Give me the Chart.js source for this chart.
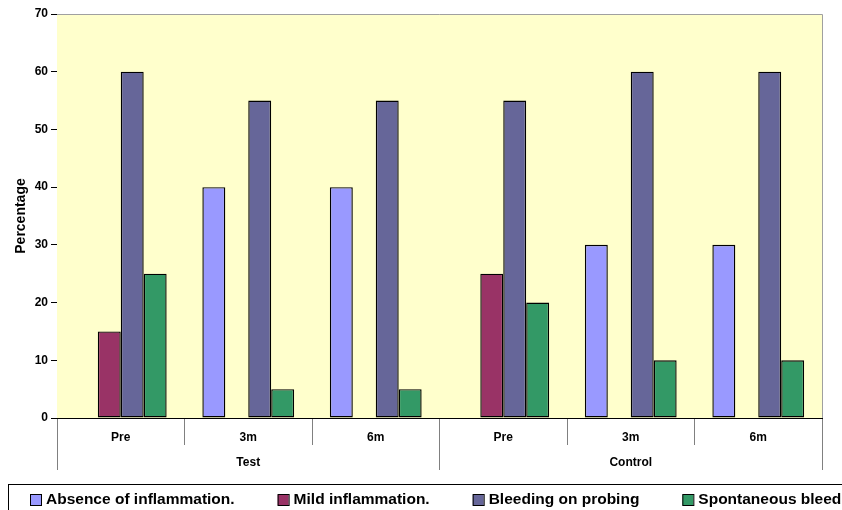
<!DOCTYPE html>
<html>
<head>
<meta charset="utf-8">
<script src="https://cdn.jsdelivr.net/npm/chart.js@4/dist/chart.umd.min.js"></script>
<style>
  html, body { margin: 0; padding: 0; background: #ffffff; overflow: hidden; }
  canvas { display: block; }
</style>
</head>
<body>
<canvas id="chart" width="842" height="510"></canvas>
<script>
// Time points within each group, and the two groups
const categories = ['Pre', '3m', '6m', 'Pre', '3m', '6m'];
const groups = ['Test', 'Control'];

// Percentage of sites per condition
const absenceOfInflammation = [0, 40, 40, 0, 30, 30];
const mildInflammation = [15, 0, 0, 25, 0, 0];
const bleedingOnProbing = [60, 55, 55, 55, 60, 60];
const spontaneousBleeding = [25, 5, 5, 20, 10, 10];

// Y-axis range
const yMin = 0;
const yMax = 70;
const yStep = 10;

const FONT = '"Liberation Sans", Arial, sans-serif';

const seriesNames = [
  'Absence of inflammation.',
  'Mild inflammation.',
  'Bleeding on probing',
  'Spontaneous bleeding'
];
const seriesColors = ['#9999FF', '#993366', '#666699', '#339966'];
const seriesData = [absenceOfInflammation, mildInflammation, bleedingOnProbing, spontaneousBleeding];

// Pale plot background with a thin grey frame on top and right
const plotBackground = {
  id: 'plotBackground',
  beforeDatasetsDraw(chart) {
    const { ctx, chartArea: a } = chart;
    ctx.save();
    ctx.fillStyle = '#FFFFCC';
    ctx.fillRect(a.left, a.top, a.right - a.left, a.bottom - a.top);
    ctx.strokeStyle = '#A0A0A0';
    ctx.lineWidth = 1;
    ctx.beginPath();
    ctx.moveTo(a.left, Math.round(a.top) + 0.5);
    ctx.lineTo(Math.round(a.right) + 0.5, Math.round(a.top) + 0.5);
    ctx.lineTo(Math.round(a.right) + 0.5, a.bottom);
    ctx.stroke();
    ctx.restore();
  }
};

// Single-row framed legend along the bottom edge
const bottomLegend = {
  id: 'bottomLegend',
  afterDraw(chart) {
    const { ctx } = chart;
    ctx.save();
    ctx.strokeStyle = '#000000';
    ctx.lineWidth = 1;
    ctx.strokeRect(8.5, 484.5, 900, 60);
    ctx.font = 'bold 15.5px ' + FONT;
    ctx.textBaseline = 'middle';
    ctx.textAlign = 'left';
    let x = 30;
    const cy = 500;
    chart.data.datasets.forEach(ds => {
      ctx.fillStyle = ds.backgroundColor;
      ctx.fillRect(x, cy - 5.5, 11, 11);
      ctx.strokeStyle = '#000000';
      ctx.strokeRect(x + 0.5, cy - 5.5, 11, 11);
      ctx.fillStyle = '#000000';
      ctx.fillText(ds.label, x + 16, cy);
      x += 16 + ctx.measureText(ds.label).width + 43;
    });
    ctx.restore();
  }
};

new Chart(document.getElementById('chart'), {
  type: 'bar',
  data: {
    labels: categories,
    datasets: seriesNames.map((name, i) => ({
      label: name,
      data: seriesData[i],
      backgroundColor: seriesColors[i],
      borderColor: '#000000',
      borderWidth: 1.4,
      borderSkipped: false,
      categoryPercentage: 0.72,
      barPercentage: 1.0
    }))
  },
  options: {
    responsive: false,
    animation: false,
    layout: { padding: { left: 0, right: 20, top: 14, bottom: 40 } },
    plugins: {
      legend: { display: false },
      tooltip: { enabled: false }
    },
    scales: {
      y: {
        min: yMin,
        max: yMax,
        ticks: {
          stepSize: yStep,
          color: '#000000',
          font: { family: FONT, size: 12, weight: 'bold' },
          padding: 3
        },
        grid: {
          drawOnChartArea: false,
          color: '#000000',
          tickLength: 6
        },
        border: { color: '#000000', width: 1 },
        title: {
          display: true,
          text: 'Percentage',
          color: '#000000',
          font: { family: FONT, size: 14, weight: 'bold' },
          padding: { top: 13, bottom: 0 }
        },
        afterFit(scale) { scale.width = 57; }
      },
      x: {
        position: 'bottom',
        offset: true,
        ticks: {
          color: '#000000',
          font: { family: FONT, size: 12, weight: 'bold' },
          padding: -15,
          maxRotation: 0,
          autoSkip: false
        },
        grid: {
          offset: true,
          drawOnChartArea: false,
          color: '#808080',
          tickLength: 27
        },
        border: { color: '#000000', width: 1 },
        afterFit(scale) { scale.height = 27; }
      },
      x2: {
        type: 'category',
        position: 'bottom',
        labels: groups,
        offset: true,
        ticks: {
          color: '#000000',
          font: { family: FONT, size: 12, weight: 'bold' },
          padding: -15,
          maxRotation: 0,
          autoSkip: false
        },
        grid: {
          offset: true,
          drawOnChartArea: false,
          color: '#808080',
          tickLength: 25
        },
        border: { display: false },
        afterFit(scale) { scale.height = 25; }
      }
    }
  },
  plugins: [plotBackground, bottomLegend]
});
</script>
</body>
</html>
